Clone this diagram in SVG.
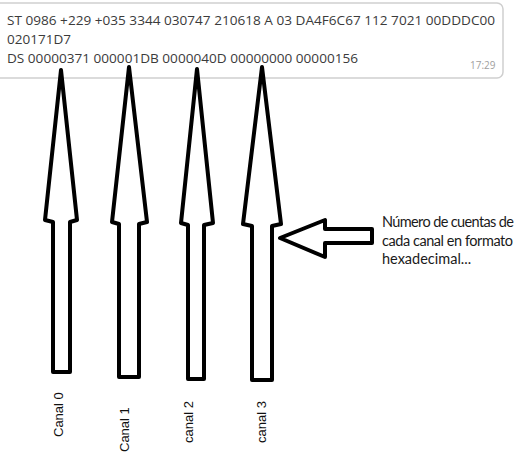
<svg xmlns="http://www.w3.org/2000/svg" width="522" height="457" viewBox="0 0 522 457">
<style>
.msg{font-family:"Open Sans","Noto Sans","DejaVu Sans",sans-serif;font-size:13px;fill:#3b3b3b}
.time{font-family:"Open Sans","Noto Sans",sans-serif;font-size:10px;fill:#a0a0a0}
.note{font-family:Lato,"Open Sans",sans-serif;font-size:14.5px;fill:#1a1a1a}
.lbl{font-family:"Liberation Sans",Arial,sans-serif;font-size:13px;fill:#111}
.arrow{fill:#fff;stroke:#000;stroke-width:4;stroke-linejoin:round}
</style>
<rect width="522" height="457" fill="#fff"/>
<g id="bubble">
<rect x="-8" y="3" width="511" height="75" rx="6" fill="#fff" stroke="#cfcfcf" stroke-width="1.5"/>
<text class="msg" x="7" y="25" textLength="488" lengthAdjust="spacingAndGlyphs">ST 0986 +229 +035 3344 030747 210618 A 03 DA4F6C67 112 7021 00DDDC00</text>
<text class="msg" x="7" y="44" textLength="64" lengthAdjust="spacingAndGlyphs">020171D7</text>
<text class="msg" x="7" y="63" textLength="351" lengthAdjust="spacingAndGlyphs">DS 00000371 000001DB 0000040D 00000000 00000156</text>
<text class="time" x="470" y="69">17:29</text>
</g>
<g id="connectors">
<polygon id="arrow0" class="arrow" points="61,70 77,220 70,222 70,372 53,372 53,222 45,220"/>
<polygon id="arrow1" class="arrow" points="129,67 147,222 139,224 139,377 119,377 119,224 112,222"/>
<polygon id="arrow2" class="arrow" points="197,69 213,223 204,225 204,379 188,379 188,225 181,223"/>
<polygon id="arrow3" class="arrow" points="262,67 281,224 272,226 272,380 252,380 252,226 243,224"/>
<polygon id="pointer" class="arrow" points="280,238 325,220 325,229 372,229 372,243 325,243 325,257"/>
</g>
<g id="note">
<text class="note" x="382" y="227" textLength="132" lengthAdjust="spacing">Número de cuentas de</text>
<text class="note" x="382" y="246" textLength="131" lengthAdjust="spacing">cada canal en formato</text>
<text class="note" x="382" y="264">hexadecimal...</text>
</g>
<g id="labels">
<text class="lbl" transform="translate(63,437) rotate(-90)">Canal 0</text>
<text class="lbl" transform="translate(129,452) rotate(-90)">Canal 1</text>
<text class="lbl" transform="translate(193,443) rotate(-90)">canal 2</text>
<text class="lbl" transform="translate(266,443) rotate(-90)">canal 3</text>
</g>
</svg>
